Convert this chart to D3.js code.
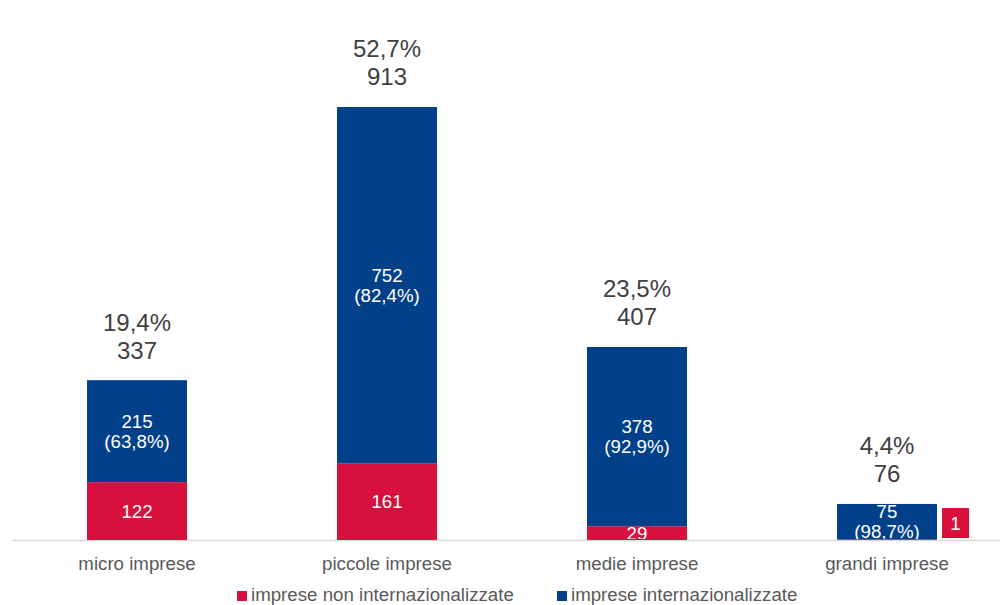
<!DOCTYPE html>
<html>
<head>
<meta charset="utf-8">
<script src="https://cdn.jsdelivr.net/npm/d3@7"></script>
<style>
  html, body { margin: 0; padding: 0; background: #fff; }
  svg { display: block; font-family: "Liberation Sans", Arial, sans-serif; }
</style>
</head>
<body>
<svg id="chart" width="1000" height="605"></svg>
<script>
// Imprese per classe dimensionale
const categories = ["micro imprese", "piccole imprese", "medie imprese", "grandi imprese"];
const nonInternazionalizzate = [122, 161, 29, 1];
const internazionalizzate = [215, 752, 378, 75];
const seriesNames = ["imprese non internazionalizzate", "imprese internazionalizzate"];
const seriesColors = ["#d7103d", "#02418a"];

const svg = d3.select("#chart");
const baseY = 540;
const labelSize = 18.7;
const totalSize = 24;

const x = d3.scaleBand().domain(categories).range([12, 1012]).paddingInner(0.6).paddingOuter(0.3);
const y = d3.scaleLinear().domain([0, 913]).range([baseY, 107]);

const fmt1 = v => d3.format(".1f")(v).replace(".", ",");
const totals = categories.map((c, i) => nonInternazionalizzate[i] + internazionalizzate[i]);
const grandTotal = d3.sum(totals);

const rows = categories.map((c, i) => ({
  cat: c,
  a: nonInternazionalizzate[i],
  b: internazionalizzate[i],
  tot: totals[i]
}));

// clip for labels that run below the baseline
svg.append("defs").append("clipPath").attr("id", "plotClip")
  .append("rect").attr("x", 0).attr("y", 0).attr("width", 1000).attr("height", baseY - 1);

// axis line
svg.append("line")
  .attr("x1", 12).attr("x2", 1000)
  .attr("y1", baseY + 0.5).attr("y2", baseY + 0.5)
  .attr("stroke", "#d9d9d9").attr("stroke-width", 1.5);

const g = svg.append("g");

// red segments
g.selectAll("rect.a").data(rows).join("rect")
  .attr("class", "a")
  .attr("x", d => x(d.cat)).attr("width", x.bandwidth())
  .attr("y", d => y(d.a)).attr("height", d => baseY - y(d.a))
  .attr("fill", seriesColors[0]);

// blue segments
g.selectAll("rect.b").data(rows).join("rect")
  .attr("class", "b")
  .attr("x", d => x(d.cat)).attr("width", x.bandwidth())
  .attr("y", d => y(d.tot)).attr("height", d => y(d.a) - y(d.tot))
  .attr("fill", seriesColors[1]);

const labels = svg.append("g").attr("clip-path", "url(#plotClip)")
  .attr("font-size", labelSize).attr("fill", "#fff").attr("text-anchor", "middle");

// blue segment labels: value + share of category
rows.forEach(d => {
  const cx = x(d.cat) + x.bandwidth() / 2;
  const cy = (y(d.tot) + y(d.a)) / 2;
  labels.append("text").attr("x", cx).attr("y", cy - 10).attr("dy", "0.35em").text(d.b);
  labels.append("text").attr("x", cx).attr("y", cy + 10).attr("dy", "0.35em")
    .text("(" + fmt1(d.b / d.tot * 100) + "%)");
});

// red segment labels (the smallest one goes into a box beside the bar)
rows.forEach(d => {
  const cx = x(d.cat) + x.bandwidth() / 2;
  const h = baseY - y(d.a);
  if (h >= 8) {
    labels.append("text").attr("x", cx).attr("y", (y(d.a) + baseY) / 2).attr("dy", "0.35em").text(d.a);
  } else {
    const bx = x(d.cat) + x.bandwidth() + 5;
    const cy = (y(d.tot) + baseY) / 2 + 1;
    labels.append("rect").attr("x", bx).attr("y", cy - 15).attr("width", 27).attr("height", 30)
      .attr("fill", seriesColors[0]);
    labels.append("text").attr("x", bx + 13.5).attr("y", cy).attr("dy", "0.35em").text(d.a);
  }
});

// totals above the bars: share of all firms, then count
const tot = svg.append("g").attr("font-size", totalSize).attr("fill", "#404040").attr("text-anchor", "middle");
rows.forEach(d => {
  const cx = x(d.cat) + x.bandwidth() / 2;
  const top = y(d.tot);
  tot.append("text").attr("x", cx).attr("y", top - 58).attr("dy", "0.35em")
    .text(fmt1(d.tot / grandTotal * 100) + "%");
  tot.append("text").attr("x", cx).attr("y", top - 30).attr("dy", "0.35em").text(d.tot);
});

// category labels
svg.append("g").attr("font-size", labelSize).attr("fill", "#595959").attr("text-anchor", "middle")
  .selectAll("text").data(categories).join("text")
  .attr("x", d => x(d) + x.bandwidth() / 2).attr("y", 563).attr("dy", "0.35em").text(d => d);

// legend
const legendPos = [237, 557];
const lg = svg.append("g").attr("font-size", labelSize).attr("fill", "#595959");
seriesNames.forEach((s, i) => {
  lg.append("rect").attr("x", legendPos[i]).attr("y", 591).attr("width", 10).attr("height", 10).attr("fill", seriesColors[i]);
  lg.append("text").attr("x", legendPos[i] + 14).attr("y", 594).attr("dy", "0.35em").text(s);
});
</script>
</body>
</html>
